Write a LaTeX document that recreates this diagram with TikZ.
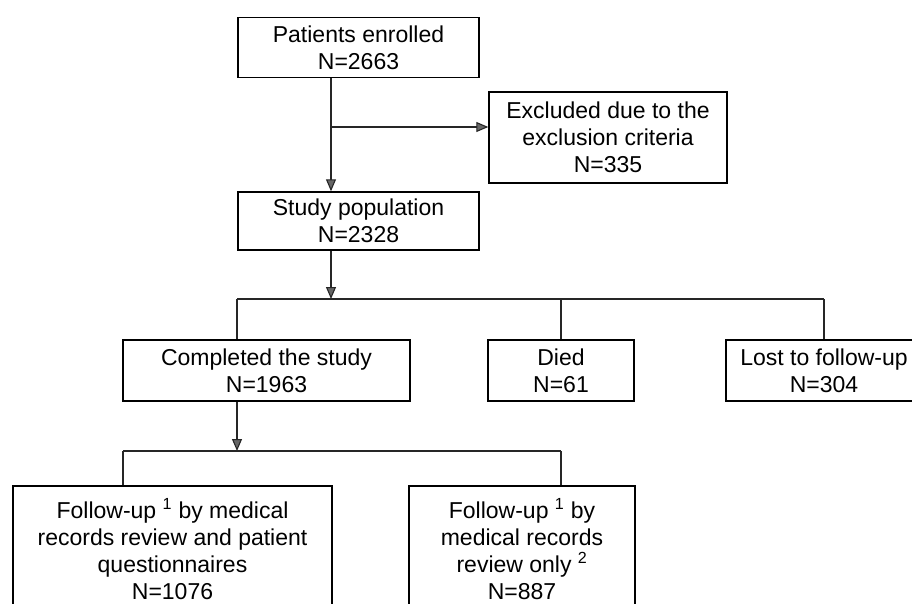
\documentclass[tikz,border=0pt]{standalone}
\usepackage{fontspec}
\setmainfont{Liberation Sans}
\usetikzlibrary{arrows.meta}

\tikzset{
	box/.style={draw=black, line width=1.4pt, align=center, inner sep=0pt,
		font=\fontsize{23}{27}\selectfont},
	link/.style={line width=1.1pt, draw=black!85},
	tip/.style={-{Triangle[length=12pt, width=10pt, fill=black!60]}},
}

\begin{document}
\begin{tikzpicture}[x=1pt, y=-1pt]
	%%%%% START %%%%%
	\useasboundingbox (0, 0) rectangle (912, 603);
	
	\node[box, minimum width=241pt, minimum height=60pt] (enrolled) at (358.5, 47.5) {Patients enrolled\\N=2663};
	\node[box, minimum width=238pt, minimum height=91pt] (excluded) at (608, 137.5) {Excluded due to the\\exclusion criteria\\N=335};
	\node[box, minimum width=241pt, minimum height=58pt] (study) at (358.5, 221) {Study population\\N=2328};
	
	\node[box, minimum width=287pt, minimum height=61pt] (completed) at (266.5, 370.5) {Completed the study\\N=1963};
	\node[box, minimum width=146pt, minimum height=61pt] (died) at (561, 370.5) {Died\\N=61};
	\node[box, minimum width=196pt, minimum height=61pt] (lost) at (824, 370.5) {Lost to follow-up\\N=304};
	
	\node[box, minimum width=319pt, minimum height=126pt] (byboth) at (172.5, 549) {Follow-up \textsuperscript{1} by medical\\records review and patient\\questionnaires\\N=1076};
	\node[box, minimum width=226pt, minimum height=126pt] (byrecords) at (522, 549) {Follow-up \textsuperscript{1} by\\medical records\\review only \textsuperscript{2}\\N=887};
	
	% branch points
	\coordinate (j1) at (331, 127);
	\coordinate (b1) at (331, 299);
	\coordinate (b1l) at (237, 299);
	\coordinate (b1r) at (824, 299);
	\coordinate (b2) at (237, 451);
	\coordinate (b2l) at (123, 451);
	\coordinate (b2r) at (561, 451);
	
	\draw[link, tip] (enrolled.south -| j1) -- (study.north -| j1);
	\draw[link, tip] (j1) -- (j1 -| excluded.west);
	
	\draw[link, tip] (study.south -| b1) -- (b1);
	\draw[link] (b1l) -- (b1r);
	\draw[link] (b1l) -- (b1l |- completed.north);
	\draw[link] (b1 -| died.north) -- (died.north);
	\draw[link] (b1r) -- (b1r |- lost.north);
	
	\draw[link, tip] (completed.south -| b2) -- (b2);
	\draw[link] (b2l) -- (b2r);
	\draw[link] (b2l) -- (b2l |- byboth.north);
	\draw[link] (b2r) -- (b2r |- byrecords.north);
	
	%%%%% END %%%%%
\end{tikzpicture}
\end{document}
